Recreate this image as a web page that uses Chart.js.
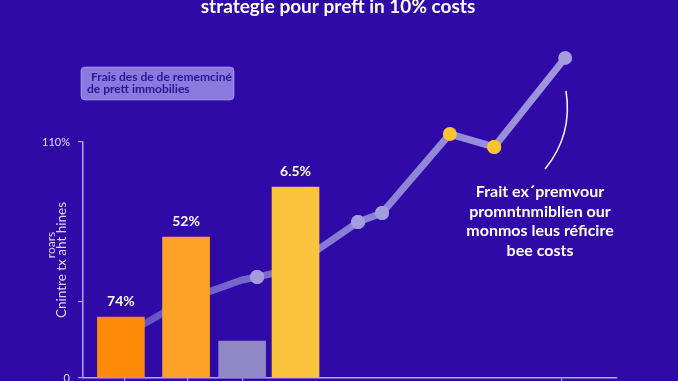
<!DOCTYPE html>
<html>
<head>
<meta charset="utf-8">
<script src="https://cdn.jsdelivr.net/npm/chart.js@4"></script>
<style>
  html, body { margin: 0; padding: 0; background: #2f0aa6; }
  #wrap { width: 678px; height: 381px; position: relative; overflow: hidden; background: #2f0aa6; }
  canvas { display: block; }
</style>
</head>
<body>
<div id="wrap"><canvas id="c" width="678" height="381"></canvas></div>
<script>
// ---- data ----
const chartTitle = "strategie pour preft in 10% costs";
const legendLines = ["Frais des de de rememciné", "de prett immobilies"];
const yTitleLines = ["roars", "Cnintre tx aht hines"];
const noteLines = ["Frait ex\u00B4premvour", "promntnmiblien our", "monmos leus réficire", "bee costs"];

const barPositions = [0.71, 1.93, 2.98, 3.98];
const barValues = [28.4, 65.7, 17.2, 89.0];
const barValueLabels = ["74%", "52%", "", "6.5%"];

const linePositions = [0.71, 1.93, 2.98, 3.26, 3.84, 5.15, 5.60, 6.87, 7.70, 9.03];
const lineValues = [19.1, 36.4, 45.7, 47.1, 50.3, 72.7, 76.9, 113.7, 107.7, 149.2];

const xTickValues = [0.77, 1.95, 2.98, 8.97];
const yTickValues = [0, 35.4, 110];
const yTickLabels = ["0", "", "110%"];

// ---- styles ----
const FONT = "Lato, 'Open Sans', sans-serif";
const AXIS = "#b0a5ee";
const barColors = ["#ff8a08", "#ffa328", "#8f86c6", "#fcc33d"];
const markerRadius = [0, 0, 0, 7, 0, 7, 7, 7, 7, 7];
const markerColors = ["#a59ce0", "#a59ce0", "#a59ce0", "#a59ce0", "#a59ce0", "#a59ce0", "#a59ce0", "#fbc231", "#fbc231", "#a59ce0"];

const decorPlugin = {
  id: "decor",
  afterDatasetsDraw(chart) {
    // draw the line's markers without chart-area clipping (some lie above the axis top)
    const ctx = chart.ctx;
    const big = { left: -10000, top: -10000, right: 10000, bottom: 10000 };
    chart.getDatasetMeta(1).data.forEach(p => p.draw(ctx, big));
  },
  afterDraw(chart) {
    const ctx = chart.ctx;
    ctx.save();
    // title
    ctx.fillStyle = "#ffffff";
    ctx.font = "bold 19px " + FONT;
    ctx.textAlign = "center";
    ctx.textBaseline = "alphabetic";
    ctx.fillText(chartTitle, 338, 13);

    // legend box
    ctx.fillStyle = "#8a7add";
    ctx.beginPath();
    ctx.roundRect(81, 67, 153, 33, 4);
    ctx.fill();
    ctx.strokeStyle = "rgba(200,190,255,0.5)";
    ctx.lineWidth = 1;
    ctx.stroke();
    ctx.fillStyle = "#2a1696";
    ctx.font = "bold 12px " + FONT;
    ctx.textAlign = "left";
    ctx.textBaseline = "middle";
    ctx.fillText(legendLines[0], 91, 77);
    ctx.fillText(legendLines[1], 87, 89);

    // y axis title (rotated)
    ctx.fillStyle = "#ddd7ff";
    ctx.textAlign = "center";
    ctx.save();
    ctx.font = "12px " + FONT;
    ctx.translate(51, 245);
    ctx.rotate(-Math.PI / 2);
    ctx.fillText(yTitleLines[0], 0, 0);
    ctx.restore();
    ctx.save();
    ctx.font = "13.5px " + FONT;
    ctx.translate(62, 260);
    ctx.rotate(-Math.PI / 2);
    ctx.fillText(yTitleLines[1], 0, 0);
    ctx.restore();

    // bar value labels
    const meta = chart.getDatasetMeta(0);
    ctx.fillStyle = "#ffffff";
    ctx.font = "bold 14px " + FONT;
    ctx.textAlign = "center";
    ctx.textBaseline = "middle";
    meta.data.forEach((el, i) => {
      if (barValueLabels[i]) ctx.fillText(barValueLabels[i], el.x, el.y - 16);
    });

    // annotation arrow
    ctx.strokeStyle = "#f2eeff";
    ctx.lineWidth = 1.6;
    ctx.beginPath();
    ctx.moveTo(566, 91);
    ctx.quadraticCurveTo(573, 135, 545, 169);
    ctx.stroke();

    // annotation text
    ctx.fillStyle = "#ffffff";
    ctx.font = "bold 16px " + FONT;
    ctx.textAlign = "center";
    noteLines.forEach((t, i) => ctx.fillText(t, 540, 192 + i * 19.5));
    ctx.restore();
  }
};

new Chart(document.getElementById("c"), {
  type: "bar",
  data: {
    datasets: [
      {
        type: "bar",
        data: barPositions.map((x, i) => ({ x: x, y: barValues[i] })),
        backgroundColor: barColors,
        borderWidth: 0,
        barThickness: 47,
        order: 1
      },
      {
        type: "line",
        data: linePositions.map((x, i) => ({ x: x, y: lineValues[i] })),
        borderColor(ctx) {
          const a = ctx.chart.chartArea;
          if (!a) return "#8a7fd4";
          const g = ctx.chart.ctx.createLinearGradient(a.left, 0, a.right, 0);
          g.addColorStop(0, "#5a44bf");
          g.addColorStop(0.5, "#8a7fd4");
          g.addColorStop(1, "#a49cdf");
          return g;
        },
        borderWidth: 7,
        tension: 0,
        fill: false,
        clip: false,
        pointRadius: markerRadius,
        pointBackgroundColor: markerColors,
        pointBorderWidth: 0,
        pointHoverRadius: markerRadius,
        order: 2
      }
    ]
  },
  options: {
    responsive: false,
    animation: false,
    events: [],
    layout: { autoPadding: false, padding: { left: 0, right: 61, top: 142, bottom: 0 } },
    plugins: { legend: { display: false }, tooltip: { enabled: false }, title: { display: false } },
    scales: {
      x: {
        type: "linear",
        min: 0,
        max: 10,
        offset: false,
        afterBuildTicks(s) { s.ticks = xTickValues.map(v => ({ value: v })); },
        afterFit(s) { s.height = 3; s.paddingLeft = 0; s.paddingRight = 0; },
        ticks: { display: true, callback: () => "", padding: 0 },
        grid: { display: true, offset: false, drawOnChartArea: false, drawTicks: true, tickLength: 4, color: AXIS, lineWidth: 1.2 },
        border: { display: true, color: AXIS, width: 1.5 }
      },
      y: {
        type: "linear",
        min: 0,
        max: 110,
        afterBuildTicks(s) { s.ticks = yTickValues.map(v => ({ value: v })); },
        afterFit(s) { s.width = 83; s.paddingTop = 0; s.paddingBottom = 0; },
        ticks: {
          color: "#e0dcff",
          font: { family: FONT, size: 11 },
          padding: 8,
          callback: (v, i) => yTickLabels[i]
        },
        grid: { display: true, offset: false, drawOnChartArea: false, drawTicks: true, tickLength: 5, color: AXIS, lineWidth: 1.2 },
        border: { display: true, color: AXIS, width: 1.5 }
      }
    }
  },
  plugins: [decorPlugin]
});
</script>
</body>
</html>
